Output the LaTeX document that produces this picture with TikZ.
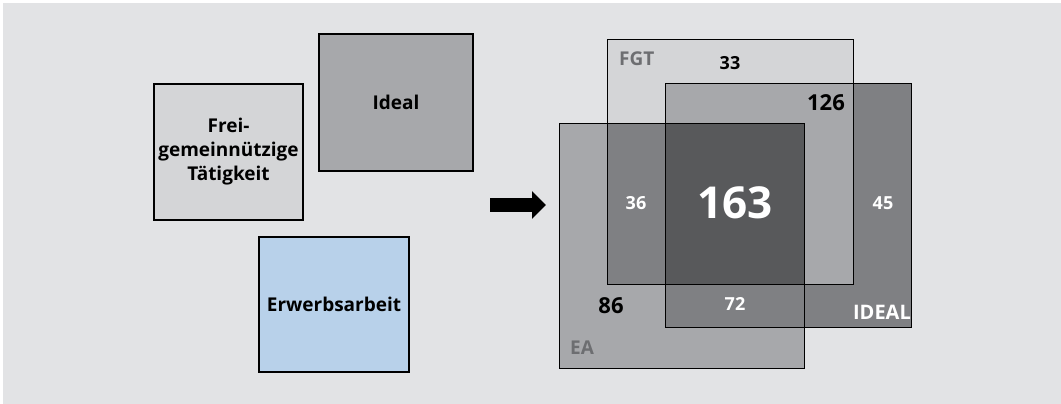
\documentclass[tikz,border=0pt]{standalone}
\usepackage{fontspec}
\setmainfont{Open Sans}
\usetikzlibrary{arrows.meta}
\definecolor{bg}{HTML}{E2E3E5}
\definecolor{lightg}{HTML}{D4D5D7}
\definecolor{midg}{HTML}{A7A8AB}
\definecolor{darkg}{HTML}{7F8083}
\definecolor{deepg}{HTML}{58595B}
\definecolor{labelg}{HTML}{6D6E71}
\definecolor{paleblue}{HTML}{B8D1EA}
\tikzset{
  box/.style={draw=black, line width=1.3pt},
  vbox/.style={draw=black, line width=0.9pt},
  lbl/.style={font=\bfseries\fontsize{19}{24}\selectfont, align=center, text=black},
  num/.style={font=\bfseries\fontsize{18}{20}\selectfont, inner sep=0pt},
  big/.style={font=\bfseries\fontsize{22}{24}\selectfont},
}
\begin{document}
\begin{tikzpicture}[x=1pt,y=-1pt]
\useasboundingbox (0,0) rectangle (1061,404);
\fill[white] (0,0) rectangle (1061,404);
\fill[bg] (3,3) rectangle (1061,404);

% three separate sets
\node[box, fill=lightg, minimum width=149pt, minimum height=136pt, lbl] (fgt) at (228.5,152) {Frei-\\gemeinnützige\\Tätigkeit};
\node[box, fill=midg, minimum width=154pt, minimum height=137pt, lbl] (ideal) at (396,102.5) {Ideal};
\node[box, fill=paleblue, minimum width=150pt, minimum height=135pt, lbl] (ea) at (334,304.5) {Erwerbsarbeit};

% arrow
\coordinate (as) at (490,205);
\coordinate (ae) at (546,205);
\draw[line width=14pt, -{Triangle[length=14pt,width=27pt]}] (as) -- (ae);

% overlapping sets
\coordinate (F1) at (607,39);  \coordinate (F2) at (853,284);
\coordinate (I1) at (665,83);  \coordinate (I2) at (911,327);
\coordinate (E1) at (559,123); \coordinate (E2) at (804,368);
\fill[lightg] (F1) rectangle (F2);
\fill[darkg] (I1) rectangle (I2);
\fill[midg] (E1) rectangle (E2);
% pairwise overlaps
\fill[midg] (665,83) rectangle (853,284);
\fill[darkg] (607,123) rectangle (804,284);
\fill[darkg] (665,123) rectangle (804,327);
% common part
\fill[deepg] (665,123) rectangle (804,284);
\draw[vbox] (F1) rectangle (F2);
\draw[vbox] (I1) rectangle (I2);
\draw[vbox] (E1) rectangle (E2);

\node[num, text=labelg, anchor=west, font=\bfseries\fontsize{19}{20}\selectfont] (tF) at (619,59) {FGT};
\node[num, text=black] (t33) at (730,63) {33};
\node[num, text=black, big] (t126) at (826,103) {126};
\node[num, text=white] (t36) at (636,203) {36};
\node[num, text=white, font=\bfseries\fontsize{44}{48}\selectfont] (t163) at (735,203) {163};
\node[num, text=white] (t45) at (883,203) {45};
\node[num, text=black, big] (t86) at (611,306) {86};
\node[num, text=white] (t72) at (735,304) {72};
\node[num, text=white, anchor=east, font=\bfseries\fontsize{20}{22}\selectfont] (tI) at (911,312) {IDEAL};
\node[num, text=labelg, anchor=west, font=\bfseries\fontsize{19}{20}\selectfont] (tE) at (570,348) {EA};
\end{tikzpicture}
\end{document}
